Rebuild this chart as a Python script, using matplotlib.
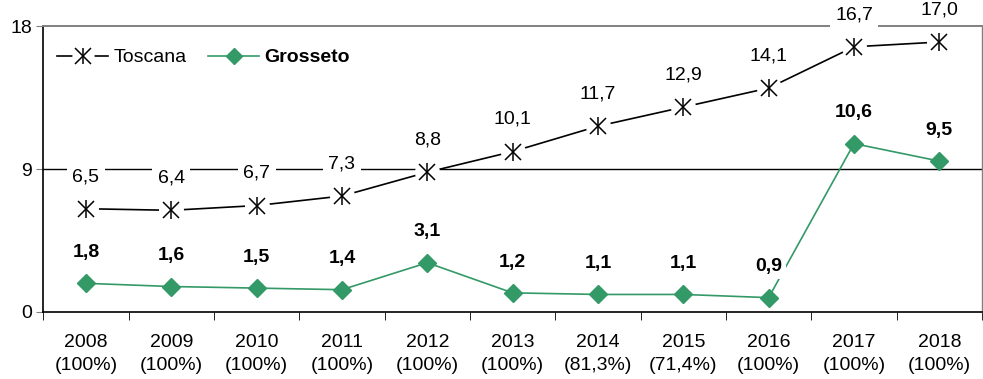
import numpy as np
import matplotlib.pyplot as plt
from matplotlib.lines import Line2D

plt.rcParams['font.family'] = ['Liberation Sans', 'DejaVu Sans']

years = ['2008', '2009', '2010', '2011', '2012', '2013', '2014', '2015', '2016', '2017', '2018']
coverage = ['100%', '100%', '100%', '100%', '100%', '100%', '81,3%', '71,4%', '100%', '100%', '100%']
toscana = [6.5, 6.4, 6.7, 7.3, 8.8, 10.1, 11.7, 12.9, 14.1, 16.7, 17.0]
grosseto = [1.8, 1.6, 1.5, 1.4, 3.1, 1.2, 1.1, 1.1, 0.9, 10.6, 9.5]

green = '#339966'
fs = 14
x = np.arange(len(years))

fig = plt.figure(figsize=(9.83, 3.79), dpi=100)
ax = fig.add_axes([0.044, 0.177, 0.955, 0.754])

# Toscana: line with small gaps around the star markers
ax.plot(x, toscana, color='black', lw=1.2, zorder=3)
ax.plot(x, toscana, 'o', ms=18, mfc='white', mec='none', zorder=4)
ax.plot(x, toscana, 'x', ms=12, mec='black', mew=1.1, zorder=5)
ax.plot(x, toscana, '|', ms=13, mec='black', mew=1.1, zorder=5)

ax.plot(x, grosseto, color=green, lw=1.2, marker='D', ms=9, mfc=green, mec=green, zorder=3)

for i in range(len(x)):
    ax.annotate(f'{toscana[i]:.1f}'.replace('.', ','), (x[i], toscana[i]),
                xytext=(0, 17), textcoords='offset points', ha='center', va='bottom',
                fontsize=fs, zorder=6,
                bbox=dict(boxstyle='square,pad=0.28', fc='white', ec='none'))
    ax.annotate(f'{grosseto[i]:.1f}'.replace('.', ','), (x[i], grosseto[i]),
                xytext=(0, 16), textcoords='offset points', ha='center', va='bottom',
                fontsize=fs, fontweight='bold', zorder=6,
                bbox=dict(boxstyle='square,pad=0.2', fc='white', ec='none'))

ax.set_xlim(-0.5, len(x) - 0.5)
ax.set_ylim(0, 18)
ax.set_yticks([0, 9, 18])
ax.set_yticklabels(['0', '9', '18'], fontsize=fs)
ax.axhline(9, color='black', lw=1.0, zorder=1)

ax.set_xticks(x)
ax.set_xticklabels([f'{y}\n({c})' for y, c in zip(years, coverage)], fontsize=fs, linespacing=1.45)
ax.tick_params(axis='x', length=0, pad=16)
ax.set_xticks(np.arange(-0.5, len(x) + 0.5), minor=True)
ax.tick_params(axis='x', which='minor', length=6, direction='out', color='black')
ax.tick_params(axis='y', length=5, direction='out', color='#808080', pad=3)

for s in ['left', 'bottom']:
    ax.spines[s].set_color('black')
    ax.spines[s].set_linewidth(1.2)
ax.spines['top'].set_color('#808080')
ax.spines['top'].set_linewidth(1.4)
ax.spines['right'].set_color('#808080')
ax.spines['right'].set_linewidth(1.0)

# legend handles
t_line = Line2D([], [], color='black', lw=1.2)
t_gap = Line2D([], [], ls='none', marker='o', ms=16, mfc='white', mec='none')
t_x = Line2D([], [], ls='none', marker='x', ms=11, mec='black', mew=1.1)
t_v = Line2D([], [], ls='none', marker='|', ms=12, mec='black', mew=1.1)
g_h = Line2D([], [], color=green, lw=1.2, marker='D', ms=8, mfc=green, mec=green)
leg = ax.legend([(t_line, t_gap, t_x, t_v), g_h], ['Toscana', 'Grosseto'],
                loc='center left', ncol=2, frameon=False, fontsize=fs,
                handlelength=2.6, columnspacing=1.1, handletextpad=0.3,
                borderpad=0, borderaxespad=0, bbox_to_anchor=(0.015, 0.89))
leg.get_texts()[1].set_fontweight('bold')

fig.savefig('out.png', dpi=100)
